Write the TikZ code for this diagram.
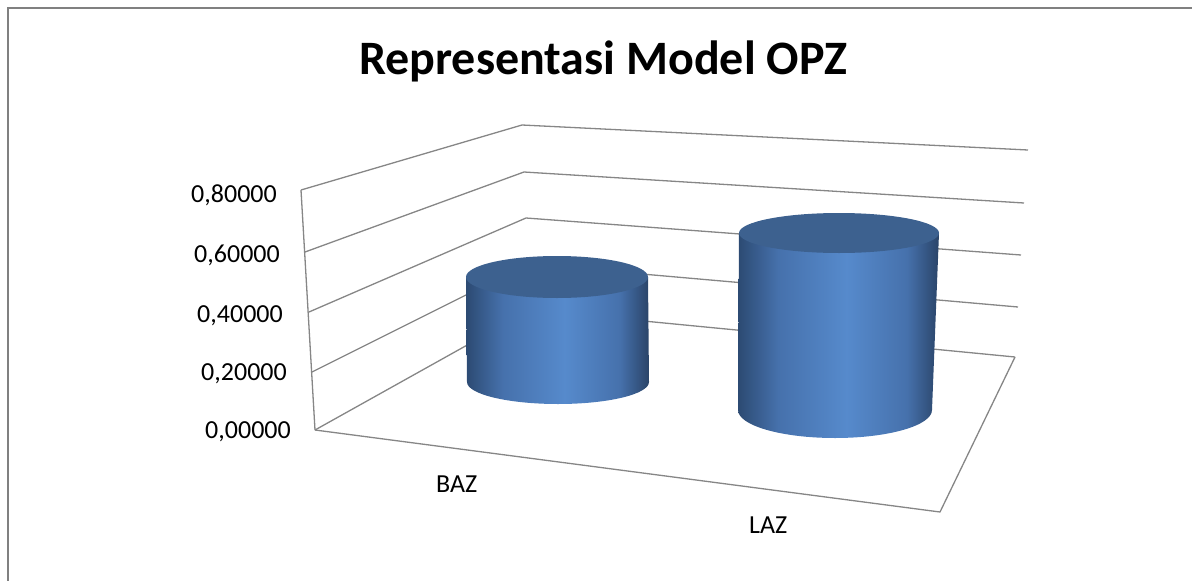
\documentclass[tikz,border=0pt]{standalone}
\usepackage{fontspec}
\setmainfont{Carlito}
\usepackage{tikz}

\definecolor{gridgray}{RGB}{134,134,134}
\definecolor{framegray}{RGB}{128,128,128}
\definecolor{cyltop}{RGB}{61,97,143}
\definecolor{cyledge}{RGB}{44,74,114}
\definecolor{cylmid}{RGB}{70,113,172}
\definecolor{cyllight}{RGB}{86,138,204}
\definecolor{cylrim}{RGB}{42,68,104}

% shaded area of the path is mapped to 25bp..75bp
\pgfdeclarehorizontalshading{cylside}{100bp}{%
  color(0bp)=(cyledge); color(25bp)=(cyledge); color(35bp)=(cylmid);
  color(52bp)=(cyllight); color(67bp)=(cylmid); color(75bp)=(cylrim);
  color(100bp)=(cylrim)}

\tikzset{
  grid/.style={draw=gridgray, line width=1.3pt},
  ticklabel/.style={anchor=base east, inner sep=0pt, font=\fontsize{26}{30}\selectfont},
  catlabel/.style={anchor=base west, inner sep=0pt, font=\fontsize{26}{30}\selectfont},
  cylbody/.style={shading=cylside},
  cyllid/.style={fill=cyltop}
}

\begin{document}
\begin{tikzpicture}[x=1pt, y=-1pt]
          \useasboundingbox (0,0) rectangle (1192,581);
          % frame
          \draw[framegray, line width=2pt] (1192,8) -- (8,8) -- (8,581);
          \node[anchor=base, inner sep=0pt, font=\fontsize{48}{52}\selectfont\bfseries] (title) at (603,74) {Representasi Model OPZ};
          % walls and floor
          \draw[grid] (315,430) -- (301,190);
          \draw[grid] (301,190) -- (522,125) -- (1028,150);
          \draw[grid] (305,252) -- (524,172) -- (1024,203);
          \draw[grid] (309,312) -- (526,218) -- (1021,255);
          \draw[grid] (312,372) -- (528,264) -- (1018,307);
          \draw[grid] (315,430) -- (530,310) -- (1015,357);
          \draw[grid] (315,430) -- (940,512) -- (1015,357);
          % axis values
          \node[ticklabel] (v8) at (277,202) {0,80000};
          \node[ticklabel] (v6) at (280,262) {0,60000};
          \node[ticklabel] (v4) at (283,322) {0,40000};
          \node[ticklabel] (v2) at (287,380) {0,20000};
          \node[ticklabel] (v0) at (291,438) {0,00000};
          \node[catlabel] (baz) at (436,492) {BAZ};
          \node[catlabel] (laz) at (749,533) {LAZ};
          % BAZ cylinder
          \shade[cylbody] (466,277) -- (467,382) arc[start angle=180, end angle=0, x radius=91, y radius=22] -- (648,277) -- cycle;
          \fill[cyllid] (557,277) ellipse[x radius=91, y radius=21];
          % LAZ cylinder
          \shade[cylbody] (739,233) -- (738,410) arc[start angle=180, end angle=0, x radius=97, y radius=28] -- (939,233) -- cycle;
          \fill[cyllid] (839,233) ellipse[x radius=100, y radius=20];
\end{tikzpicture}
\end{document}
